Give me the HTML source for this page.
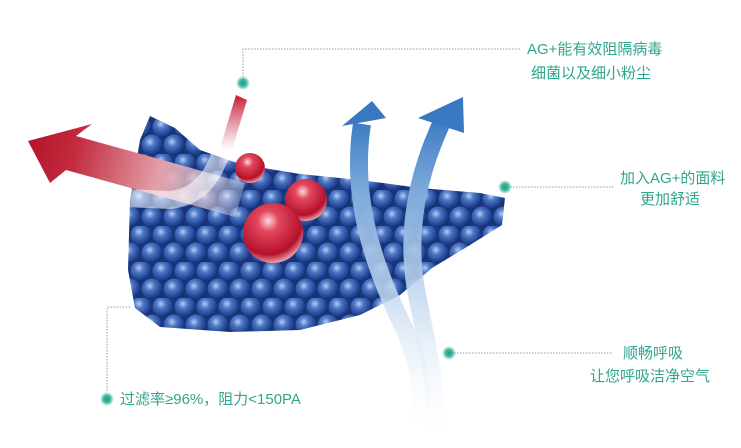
<!DOCTYPE html>
<html><head><meta charset="utf-8"><style>
html,body{margin:0;padding:0;background:#fff;}
svg{display:block}
text{font-family:"Liberation Sans","Noto Sans CJK SC",sans-serif;font-size:15px;fill:#2ea58c}
</style></head><body>
<svg width="741" height="448" viewBox="0 0 741 448" xmlns="http://www.w3.org/2000/svg">
<defs>
<radialGradient id="sb" cx="0.4" cy="0.35" r="0.65">
<stop offset="0" stop-color="#b5ccf2"/><stop offset="0.35" stop-color="#4d77c4"/><stop offset="0.85" stop-color="#1e3f8e"/><stop offset="1" stop-color="#142f70"/>
</radialGradient>
<radialGradient id="rb" cx="0.42" cy="0.3" r="0.7">
<stop offset="0" stop-color="#ffd9df"/><stop offset="0.25" stop-color="#e2485f"/><stop offset="0.8" stop-color="#b5102a"/><stop offset="1" stop-color="#e89aa6"/>
</radialGradient>
<radialGradient id="dot"><stop offset="0" stop-color="#1a9f86"/><stop offset="0.5" stop-color="#3fb89e"/><stop offset="1" stop-color="#3fb89e" stop-opacity="0"/></radialGradient>
<pattern id="sp" width="22" height="36" patternUnits="userSpaceOnUse" x="130" y="118">
<rect width="22" height="36" fill="#18357a"/>
<circle cx="11" cy="9" r="10.5" fill="url(#sb)"/>
<circle cx="0" cy="27" r="10.5" fill="url(#sb)"/>
<circle cx="22" cy="27" r="10.5" fill="url(#sb)"/>
</pattern>
<linearGradient id="ra" gradientUnits="userSpaceOnUse" x1="245" y1="200" x2="30" y2="145">
<stop offset="0" stop-color="#fff" stop-opacity="0.3"/><stop offset="0.4" stop-color="#e3a0a8"/><stop offset="0.8" stop-color="#c22a3e"/><stop offset="1" stop-color="#b3162c"/>
</linearGradient>
<linearGradient id="rs" x1="0" y1="1" x2="0" y2="0">
<stop offset="0" stop-color="#fff" stop-opacity="0.8"/><stop offset="1" stop-color="#c41c35"/>
</linearGradient>
<linearGradient id="ba" x1="0" y1="1" x2="0" y2="0">
<stop offset="0" stop-color="#fff" stop-opacity="0"/><stop offset="0.35" stop-color="#dbe7f6" stop-opacity="0.8"/><stop offset="0.8" stop-color="#7aa8da"/><stop offset="1" stop-color="#3f7cc4"/>
</linearGradient>
</defs>

<!-- sheet -->
<path d="M150,116 L175,128 L200,150 L240,164 L300,174 L360,180 L420,188 L480,193 L505,198 L502,225 L470,245 L432,268 L400,295 L360,315 L300,330 L230,332 L160,327 L135,308 L128,270 L130,200 L140,140 Z" fill="url(#sp)"/>

<!-- red arrow -->
<path d="M245,183 L235,217 L66,170 L50,183 L28,141 L92,124 L76,136 Z" fill="url(#ra)"/>
<!-- white swoop + red streak -->
<path d="M232,100 C225,150 215,195 170,200 L125,198" stroke="#fff" stroke-width="18" fill="none" opacity="0.55"/>
<path d="M236,95 L247,100 L232,150 L220,148 Z" fill="url(#rs)"/>

<!-- red balls -->
<circle cx="250" cy="168" r="15" fill="url(#rb)"/>
<circle cx="306" cy="200" r="21" fill="url(#rb)"/>
<circle cx="273" cy="233" r="30" fill="url(#rb)"/>

<!-- blue arrows -->
<path d="M362,124 C350,200 375,270 405,330 C420,365 425,400 420,440" stroke="url(#ba)" stroke-width="18" fill="none"/>
<path d="M342,126 L372,101 L386,118 Z" fill="#3a78c2"/>
<path d="M442,122 C415,180 405,240 418,300 C430,360 440,400 432,445" stroke="url(#ba)" stroke-width="18" fill="none"/>
<path d="M418,118 L463,97 L464,133 Z" fill="#3a78c2"/>

<!-- leader lines -->
<g stroke="#7aa8a0" stroke-width="1" stroke-dasharray="1.5,1.5" fill="none">
<path d="M243,80 V49 H520"/>
<path d="M510,187 H615"/>
<path d="M454,353 H612"/>
<path d="M130,307 H107 V392"/>
</g>
<circle cx="243" cy="83" r="7" fill="url(#dot)"/>
<circle cx="505" cy="187" r="7" fill="url(#dot)"/>
<circle cx="449" cy="353" r="7" fill="url(#dot)"/>
<circle cx="107" cy="399" r="7" fill="url(#dot)"/>

<text x="527" y="54">AG+能有效阻隔病毒</text>
<text x="531" y="78">细菌以及细小粉尘</text>
<text x="620" y="183">加入AG+的面料</text>
<text x="640" y="204">更加舒适</text>
<text x="623" y="358">顺畅呼吸</text>
<text x="590" y="381">让您呼吸洁净空气</text>
<text x="120" y="404">过滤率≥96%，阻力&lt;150PA</text>
</svg>
</body></html>
